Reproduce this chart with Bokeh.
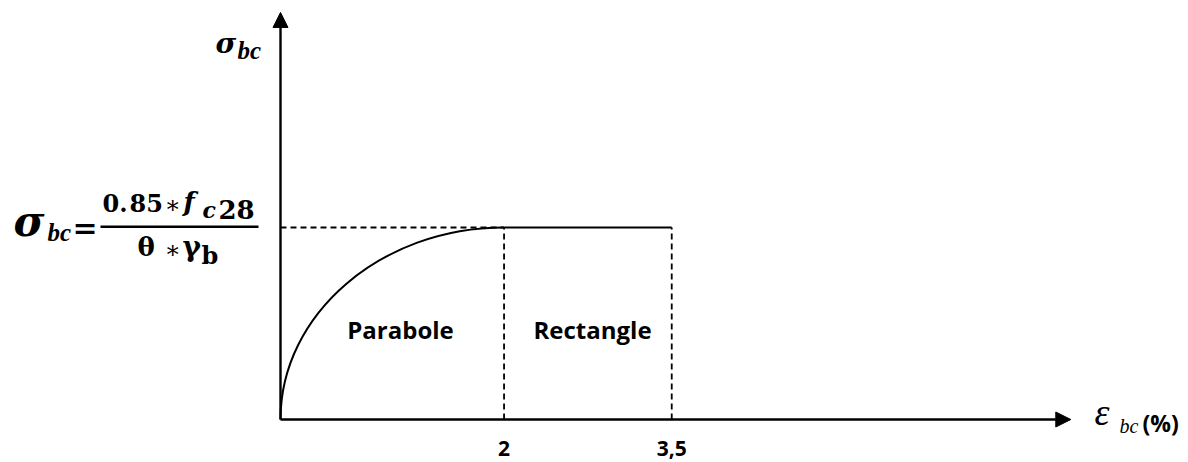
from bokeh.plotting import figure
from bokeh.models import Range1d, Label, Arrow, NormalHead, BoxAnnotation
from bokeh.embed import file_html
from bokeh.resources import INLINE

# ---- data (strain in %, stress normalised to the plateau value) ----
strain_ticks = [2.0, 3.5]
tick_labels = ["2", "3,5"]
plateau_stress = 1.0
# parabola part drawn as a cubic Bezier
curve_start = (0.0, 0.0)
curve_ctrl1 = (0.0, 0.55)
curve_ctrl2 = (0.9, 1.0)
curve_end = (2.0, 1.0)
region_labels = ["Parabole", "Rectangle"]
x_axis_end = 7.07
y_axis_end = 2.12

W, H = 1188, 462
SX = 111.78   # px per % strain
SY = 192.0    # px per unit stress
X0_PX = 280   # screen x of origin
Y0_PX = 43    # screen y (from bottom) of origin
MID = 0.32    # em distance from baseline to the text middle

p = figure(width=W, height=H, output_backend="svg", toolbar_location=None,
           x_range=Range1d(-X0_PX / SX, (W - X0_PX) / SX),
           y_range=Range1d(-Y0_PX / SY, (H - Y0_PX) / SY),
           x_axis_type=None, y_axis_type=None, min_border=0)
p.grid.visible = False
p.outline_line_color = None
p.background_fill_color = "white"

dash = "6 4"
# dashed guides
p.line([0, strain_ticks[0]], [plateau_stress, plateau_stress], line_color="black",
       line_width=1.8, line_dash=dash)
p.segment(x0=strain_ticks, y0=[0, 0], x1=strain_ticks, y1=[plateau_stress] * 2,
          line_color="black", line_width=1.8, line_dash=dash)
# curve
p.bezier(x0=[curve_start[0]], y0=[curve_start[1]], x1=[curve_end[0]], y1=[curve_end[1]],
         cx0=[curve_ctrl1[0]], cy0=[curve_ctrl1[1]], cx1=[curve_ctrl2[0]], cy1=[curve_ctrl2[1]],
         line_color="black", line_width=2)
p.line(strain_ticks, [plateau_stress] * 2, line_color="black", line_width=2)

# axes with arrows
for xe, ye in [(0, y_axis_end), (x_axis_end, 0)]:
    p.add_layout(Arrow(x_start=0, y_start=0, x_end=xe, y_end=ye, line_width=2.4,
                       line_color="black",
                       end=NormalHead(size=15, fill_color="black", line_color="black")))

# tick labels
p.text(x=strain_ticks, y=[0, 0], text=tick_labels, y_offset=36 - MID * 21,
       text_align="center", text_baseline="middle", text_font={"value": "Open Sans"},
       text_font_style="bold", text_font_size="21px", text_color="black")


def lab(x, y, t, font, size, style="normal", align="left"):
    # x, y: left/centre x and baseline y, in pixels from the top-left corner
    p.add_layout(Label(x=x, y=H - (y - MID * size), x_units="screen", y_units="screen",
                       text=t, text_font=font, text_font_size=f"{size}px",
                       text_font_style=style, text_align=align,
                       text_baseline="middle", text_color="black"))


# region labels
lab(400, 337, region_labels[0], "Open Sans", 24, "bold", "center")
lab(592, 337, region_labels[1], "Open Sans", 24, "bold", "center")

# top y-axis title  sigma_bc
lab(215, 52, "σ", "DejaVu Serif", 28, "bold italic")
lab(237, 58, "bc", "Liberation Serif", 25, "bold italic")

# x-axis title  epsilon_bc (%)
lab(1094, 424, "ε", "Liberation Serif", 38, "italic")
lab(1119, 432, "bc", "Liberation Serif", 20, "italic")
lab(1142, 430, "(%)", "Open Sans", 23, "bold")

# formula  sigma_bc = 0.85*f_c28 / (theta*gamma_b)
lab(13, 234, "σ", "DejaVu Serif", 42, "bold italic")
lab(47, 240, "bc", "Liberation Serif", 25, "bold italic")
lab(72, 237, "=", "DejaVu Serif", 30, "bold")
lab(102, 210, "0.", "DejaVu Serif", 24, "bold")
lab(129, 210, "85", "DejaVu Serif", 24, "bold")
lab(164, 212, "∗", "DejaVu Serif", 24, "normal")
lab(183, 210, "f", "DejaVu Serif", 26, "bold italic")
lab(202, 217, "c", "DejaVu Serif", 22, "bold italic")
lab(218, 217, "28", "DejaVu Serif", 26, "bold")
p.add_layout(BoxAnnotation(left=100, right=258, bottom=H - 227.5, top=H - 225,
                           left_units="screen", right_units="screen",
                           bottom_units="screen", top_units="screen",
                           fill_color="black", fill_alpha=1, line_color=None))
lab(137, 255, "θ", "DejaVu Serif", 26, "bold")
lab(164, 257, "∗", "DejaVu Serif", 24, "normal")
lab(182, 255, "γ", "DejaVu Serif", 28, "bold")
lab(201, 263, "b", "DejaVu Serif", 24, "bold")

open("out.html", "w").write(file_html(p, INLINE))
